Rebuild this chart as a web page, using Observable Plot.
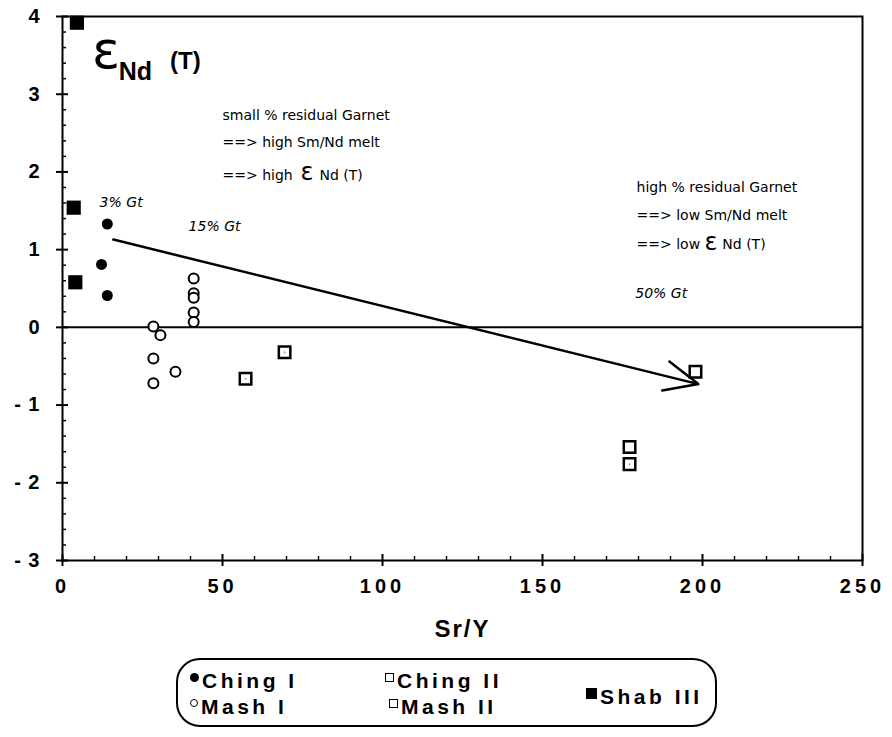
<!DOCTYPE html>
<html><head><meta charset="utf-8">
<script src="https://cdn.jsdelivr.net/npm/d3@7"></script>
<script src="https://cdn.jsdelivr.net/npm/@observablehq/plot@0.6"></script>
<style>
body{margin:0;background:#fff;}
#wrap{position:relative;width:892px;height:737px;overflow:hidden;}
#chart svg{display:block;}
#chart g[aria-label="x-axis tick label"]{font-size:20px;font-weight:bold;letter-spacing:4px;}
#chart g[aria-label="y-axis tick label"]{font-size:20px;font-weight:bold;letter-spacing:1px;}
#chart g[aria-label="x-axis label"]{font-size:24px;font-weight:bold;letter-spacing:2px;}
.legend{position:absolute;left:176px;top:658px;width:537px;height:65px;border:2px solid #000;border-radius:24px;font:bold 21px "Liberation Sans",Arial,sans-serif;color:#000;}
.item{position:absolute;white-space:nowrap;letter-spacing:3.5px;line-height:22px;}
.mk{display:inline-block;box-sizing:border-box;vertical-align:middle;margin-right:3px;position:relative;top:-5px;}
.fc{width:9px;height:9px;border-radius:50%;background:#000;}
.oc{width:8px;height:8px;border-radius:50%;border:1.6px solid #000;}
.os{width:9px;height:9px;border:1.8px solid #000;}
.fs{width:11px;height:11px;background:#000;}
</style></head>
<body>
<div id="wrap"><div id="chart"></div>
<div class="legend">
  <div class="item" style="left:12px;top:10px"><span class="mk fc"></span>Ching I</div>
  <div class="item" style="left:12px;top:36px"><span class="mk oc"></span>Mash I</div>
  <div class="item" style="left:207px;top:10px"><span class="mk os"></span>Ching II</div>
  <div class="item" style="left:211px;top:36px"><span class="mk os"></span>Mash II</div>
  <div class="item" style="left:408px;top:26px"><span class="mk fs"></span>Shab III</div>
</div>
</div>
<script>
// ---- data ----
const chingI_x = [14, 12.2, 14];
const chingI_y = [1.33, 0.81, 0.41];
const mashI_x = [28.4, 30.6, 28.4, 35.3, 28.4, 41, 41, 41, 41, 41];
const mashI_y = [0.01, -0.10, -0.40, -0.57, -0.72, 0.63, 0.44, 0.38, 0.19, 0.07];
const chingII_x = [197.8, 177.2];
const chingII_y = [-0.57, -1.54];
const mashII_x = [57.2, 69.4, 177.2];
const mashII_y = [-0.66, -0.32, -1.76];
const shabIII_x = [4.5, 3.5, 4];
const shabIII_y = [3.92, 1.54, 0.58];
const trend = [{x1: 15.9, y1: 1.13, x2: 198.7, y2: -0.73}];

const xMajor = [0, 50, 100, 150, 200, 250];
const xMinor = d3.range(0, 251, 10).filter(v => v % 50 !== 0);
const yMajor = [-3, -2, -1, 0, 1, 2, 3, 4];
const yMinor = d3.range(-30, 41, 2).map(v => v / 10).filter(v => Math.abs(v % 1) > 1e-9);

// annotations
const noteText = ["small % residual Garnet", "==> high Sm/Nd melt", "==> high", "Nd (T)",
                  "high % residual Garnet", "==> low Sm/Nd melt", "==> low", "Nd (T)"];
const noteX = [50, 50, 50, 80.3, 179.4, 179.4, 179.4, 206.2];
const noteY = [2.73, 2.38, 1.96, 1.96, 1.80, 1.44, 1.06, 1.06];
const epsX = [74.4, 200.6];
const epsY = [1.99, 1.09];
const gtText = ["3% Gt", "15% Gt", "50% Gt"];
const gtX = [11.6, 39.4, 179];
const gtY = [1.61, 1.30, 0.44];

const pts = (xs, ys) => xs.map((x, i) => ({x, y: ys[i]}));
const notes = noteText.map((t, i) => ({t, x: noteX[i], y: noteY[i]}));
const eps = epsX.map((x, i) => ({x, y: epsY[i]}));
const gts = gtText.map((t, i) => ({t, x: gtX[i], y: gtY[i]}));
const noteFont = "'DejaVu Sans', sans-serif";

const chart = Plot.plot({
  width: 892, height: 650,
  marginLeft: 62, marginRight: 30, marginTop: 16, marginBottom: 90,
  style: {fontFamily: "'Liberation Sans', Arial, sans-serif", background: "#fff", color: "#000"},
  x: {domain: [0, 250]},
  y: {domain: [-3, 4]},
  marks: [
    Plot.frame({strokeWidth: 2}),
    Plot.ruleY([0], {strokeWidth: 2}),
    Plot.axisX({ticks: xMajor, tickSize: 6, tickPadding: 12, strokeWidth: 2,
      tickFormat: d => String(d), label: "Sr/Y", labelAnchor: "center", labelArrow: false, labelOffset: 76}),
    Plot.axisX({ticks: xMajor, tickSize: 6, dy: -6, strokeWidth: 2, tickFormat: () => "", label: null}),
    Plot.axisX({ticks: xMinor, tickSize: 4, dy: -4, strokeWidth: 1.5, tickFormat: () => "", label: null}),
    Plot.axisY({ticks: yMajor, tickSize: 6, tickPadding: 16, strokeWidth: 2,
      tickFormat: d => d < 0 ? "- " + (-d) : String(d), label: null}),
    Plot.axisY({ticks: yMajor, tickSize: 6, dx: 6, strokeWidth: 2, tickFormat: () => "", label: null}),
    Plot.axisY({ticks: yMinor, tickSize: 4, dx: 4, strokeWidth: 1.5, tickFormat: () => "", label: null}),
    Plot.arrow(trend, {x1: "x1", y1: "y1", x2: "x2", y2: "y2", strokeWidth: 2.5, headLength: 22, headAngle: 48, bend: false}),
    Plot.dot(pts(chingI_x, chingI_y), {x: "x", y: "y", r: 5.5, fill: "#000", stroke: "none"}),
    Plot.dot(pts(mashI_x, mashI_y), {x: "x", y: "y", r: 5, fill: "#fff", stroke: "#000", strokeWidth: 2}),
    Plot.dot(pts(chingII_x, chingII_y), {x: "x", y: "y", symbol: "square", r: 6.5, fill: "#fff", stroke: "#000", strokeWidth: 2.5}),
    Plot.dot(pts(mashII_x, mashII_y), {x: "x", y: "y", symbol: "square", r: 6.5, fill: "#fff", stroke: "#000", strokeWidth: 2.5}),
    Plot.dot(pts(mashII_x, mashII_y), {x: "x", y: "y", r: 1, fill: "#999", stroke: "none"}),
    Plot.dot(pts(shabIII_x, shabIII_y), {x: "x", y: "y", symbol: "square", r: 8, fill: "#000", stroke: "none"}),
    // εNd(T) label
    Plot.text([{x: 9.2, y: 3.55}], {x: "x", y: "y", text: () => "ε", textAnchor: "start", fontSize: 52, fontFamily: "DejaVu Sans"}),
    Plot.text([{x: 17.6, y: 3.29}], {x: "x", y: "y", text: () => "Nd", textAnchor: "start", fontSize: 25, fontWeight: "bold", letterSpacing: 2}),
    Plot.text([{x: 33.6, y: 3.42}], {x: "x", y: "y", text: () => "(T)", textAnchor: "start", fontSize: 24, fontWeight: "bold", letterSpacing: 1}),
    Plot.text(notes, {x: "x", y: "y", text: "t", textAnchor: "start", fontSize: 14, fontFamily: noteFont}),
    Plot.text(eps, {x: "x", y: "y", text: () => "ε", textAnchor: "start", fontSize: 24, fontFamily: noteFont}),
    Plot.text(gts, {x: "x", y: "y", text: "t", textAnchor: "start", fontSize: 14, fontStyle: "italic", fontFamily: noteFont})
  ]
});
document.getElementById("chart").appendChild(chart);
</script>
</body></html>
